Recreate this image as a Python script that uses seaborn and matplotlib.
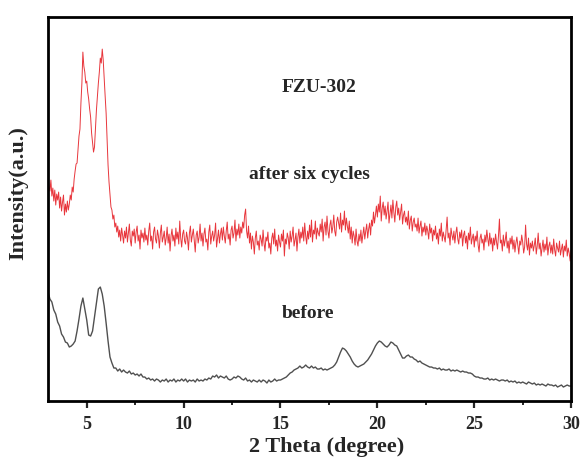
import numpy as np
import pandas as pd
import matplotlib
matplotlib.use("Agg")
import matplotlib.pyplot as plt
from matplotlib.ticker import MultipleLocator
import seaborn as sns

# FZU-302 after six cycles (stacked trace, a.u.), 0.05 degree steps from 3 to 30
after_cycles = [
    226, 214, 210, 221, 205, 213, 200, 211, 196, 207,
    201, 209, 193, 204, 190, 199, 206, 186, 197, 189,
    200, 191, 197, 206, 201, 214, 209, 222, 230, 237,
    238, 252, 265, 272, 298, 318, 349, 335, 329, 318,
    320, 309, 302, 292, 284, 268, 258, 249, 254, 272,
    291, 305, 318, 329, 343, 338, 352, 341, 322, 305,
    288, 262, 236, 219, 206, 194, 191, 182, 186, 174,
    178, 169, 175, 164, 171, 160, 173, 166, 158, 170,
    163, 174, 159, 168, 177, 161, 155, 170, 165, 172,
    158, 169, 175, 160, 166, 152, 171, 163, 168, 159,
    173, 161, 166, 156, 170, 178, 160, 165, 152, 169,
    174, 162, 158, 171, 165, 153, 168, 176, 159, 164,
    170, 156, 163, 174, 158, 167, 150, 165, 172, 160,
    166, 155, 173, 162, 169, 157, 180, 163, 154, 167,
    171, 160, 157, 169, 163, 151, 168, 175, 159, 166,
    172, 161, 149, 166, 170, 158, 164, 177, 160, 168,
    155, 167, 173, 159, 162, 151, 169, 176, 157, 165,
    170, 160, 166, 178, 154, 163, 171, 158, 167, 173,
    161, 174, 165, 158, 170, 179, 162, 167, 156, 171,
    175, 163, 168, 181, 160, 172, 166, 177, 163, 174,
    168, 179, 173, 186, 192, 170, 163, 175, 158, 168,
    152, 165, 159, 147, 163, 170, 156, 160, 151, 166,
    162, 155, 171, 158, 150, 164, 160, 169, 153, 158,
    147, 163, 168, 157, 172, 155, 161, 150, 166, 159,
    154, 167, 160, 171, 145, 162, 157, 168, 163, 152,
    170, 159, 165, 174, 155, 161, 168, 150, 164, 172,
    158, 169, 163, 174, 160, 178, 165, 157, 170, 162,
    176, 164, 181, 159, 171, 167, 180, 162, 173, 168,
    165, 177, 169, 182, 160, 174, 179, 166, 185, 170,
    163, 176, 181, 168, 174, 186, 170, 165, 179, 184,
    178, 172, 188, 169, 181, 176, 190, 171, 183, 175,
    168, 180, 162, 174, 158, 170, 165, 156, 172, 160,
    155, 167, 160, 171, 158, 166, 174, 162, 170, 177,
    163, 172, 178, 166, 181, 175, 189, 178, 186, 195,
    184, 197, 189, 205, 180, 193, 199, 186, 195, 182,
    190, 199, 178, 187, 196, 183, 201, 189, 179, 194,
    200, 186, 193, 181, 189, 197, 177, 186, 190, 179,
    184, 176, 190, 172, 181, 185, 170, 179, 183, 174,
    177, 170, 183, 168, 175, 180, 165, 174, 169, 178,
    166, 175, 170, 162, 177, 168, 173, 160, 171, 166,
    175, 162, 168, 157, 172, 165, 178, 160, 169, 164,
    159, 171, 184, 163, 168, 156, 173, 166, 161, 170,
    158, 168, 174, 162, 157, 169, 163, 171, 155, 166,
    170, 158, 165, 152, 168, 161, 174, 157, 163, 167,
    154, 165, 160, 170, 156, 149, 163, 167, 158, 162,
    151, 166, 159, 171, 162, 155, 168, 157, 163, 150,
    163, 156, 167, 159, 152, 165, 182, 158, 161, 150,
    166, 155, 161, 169, 153, 160, 148, 163, 157, 165,
    152, 161, 149, 158, 164, 155, 147, 160, 156, 166,
    159, 148, 154, 176, 157, 151, 163, 146, 158, 153,
    160, 150, 156, 163, 147, 155, 168, 152, 158, 145,
    153, 161, 149, 157, 151, 164, 146, 155, 159, 148,
    156, 147, 162, 151, 145, 158, 153, 149, 160, 146,
    152, 157, 144, 155, 150, 161, 145, 153, 148, 140,
    151,
]

# FZU-302 as synthesized (a.u.), 0.1 degree steps from 3 to 30
before_cycles = [
    109, 102, 99, 91, 87, 79, 75, 67, 64, 59,
    58, 54, 55, 57, 60, 70, 82, 95, 103, 92,
    81, 66, 65, 70, 84, 98, 112, 114, 107, 95,
    78, 60, 44, 38, 33, 33, 30, 32, 29, 31,
    29, 28, 30, 27, 28, 26, 27, 25, 27, 24,
    24, 22, 23, 21, 22, 20, 22, 21, 19, 21,
    20, 22, 19, 21, 20, 22, 19, 21, 20, 22,
    20, 22, 19, 21, 20, 21, 19, 22, 20, 21,
    20, 22, 21, 23, 22, 25, 24, 26, 23, 25,
    24, 23, 25, 22, 21, 22, 24, 23, 25, 24,
    22, 21, 23, 20, 21, 19, 21, 20, 19, 21,
    19, 21, 20, 18, 21, 19, 20, 22, 20, 21,
    21, 22, 23, 24, 26, 28, 29, 31, 32, 33,
    35, 33, 34, 36, 34, 33, 35, 33, 34, 32,
    32, 33, 31, 32, 31, 32, 33, 34, 36, 39,
    44, 49, 53, 52, 50, 47, 44, 40, 37, 35,
    34, 35, 36, 37, 39, 41, 44, 47, 51, 55,
    58, 60, 59, 57, 55, 54, 56, 59, 58, 56,
    55, 51, 47, 43, 43, 45, 46, 44, 44, 42,
    41, 39, 40, 38, 37, 36, 35, 34, 34, 33,
    33, 32, 33, 31, 32, 31, 31, 32, 30, 31,
    30, 31, 30, 29, 30, 29, 29, 28, 28, 27,
    25, 24, 24, 23, 23, 22, 22, 23, 21, 22,
    21, 22, 21, 20, 21, 21, 20, 21, 19, 20,
    19, 20, 18, 19, 18, 19, 18, 17, 19, 18,
    17, 18, 16, 17, 16, 17, 16, 15, 17, 16,
    16, 15, 16, 14, 15, 16, 14, 15, 16, 15,
    15,
]

x_ticks = [5, 10, 15, 20, 25, 30]

after_theta = np.round(3.0 + 0.05 * np.arange(len(after_cycles)), 3)
before_theta = np.round(3.0 + 0.1 * np.arange(len(before_cycles)), 3)

sns.set_style("ticks")
plt.rcParams["font.family"] = ["Liberation Serif", "DejaVu Serif"]
plt.rcParams["font.weight"] = "bold"

df_after = pd.DataFrame({"two_theta": after_theta, "intensity": after_cycles})
df_before = pd.DataFrame({"two_theta": before_theta, "intensity": before_cycles})

fig = plt.figure(figsize=(5.81, 4.62), dpi=100)
ax = fig.add_axes([0.0826, 0.132, 0.9004, 0.831])

sns.lineplot(data=df_after, x="two_theta", y="intensity", ax=ax,
             color="#e8363c", linewidth=0.7, estimator=None)
sns.lineplot(data=df_before, x="two_theta", y="intensity", ax=ax,
             color="#505050", linewidth=1.0, estimator=None)

ax.set_xlim(3, 30)
ax.set_ylim(0, 384)
ax.set_xticks(x_ticks)
ax.set_xticklabels([str(t) for t in x_ticks])
ax.xaxis.set_minor_locator(MultipleLocator(2.5))
ax.set_yticks([])

for side in ["top", "bottom", "left", "right"]:
    ax.spines[side].set_visible(True)
    ax.spines[side].set_linewidth(2.0)
    ax.spines[side].set_color("black")

ax.tick_params(axis="x", which="major", direction="out", length=5, width=1.6,
               labelsize=13, pad=6)
ax.tick_params(axis="x", which="minor", direction="out", length=3, width=1.4)
for lbl in ax.get_xticklabels():
    lbl.set_fontweight("bold")

ax.set_xlabel("2 Theta (degree)", fontsize=16, fontweight="bold")
ax.set_ylabel("Intensity(a.u.)", fontsize=16, fontweight="bold")
ax.xaxis.set_label_coords(0.532, -0.094)
ax.yaxis.set_label_coords(-0.038, 0.542)

ax.text(17.0, 314, "FZU-302", ha="center", va="center", fontsize=14, fontweight="bold")
ax.text(16.5, 227, "after six cycles", ha="center", va="center", fontsize=14, fontweight="bold")
ax.text(16.4, 88, "before", ha="center", va="center", fontsize=14, fontweight="bold")

fig.savefig("out.png", dpi=100)
